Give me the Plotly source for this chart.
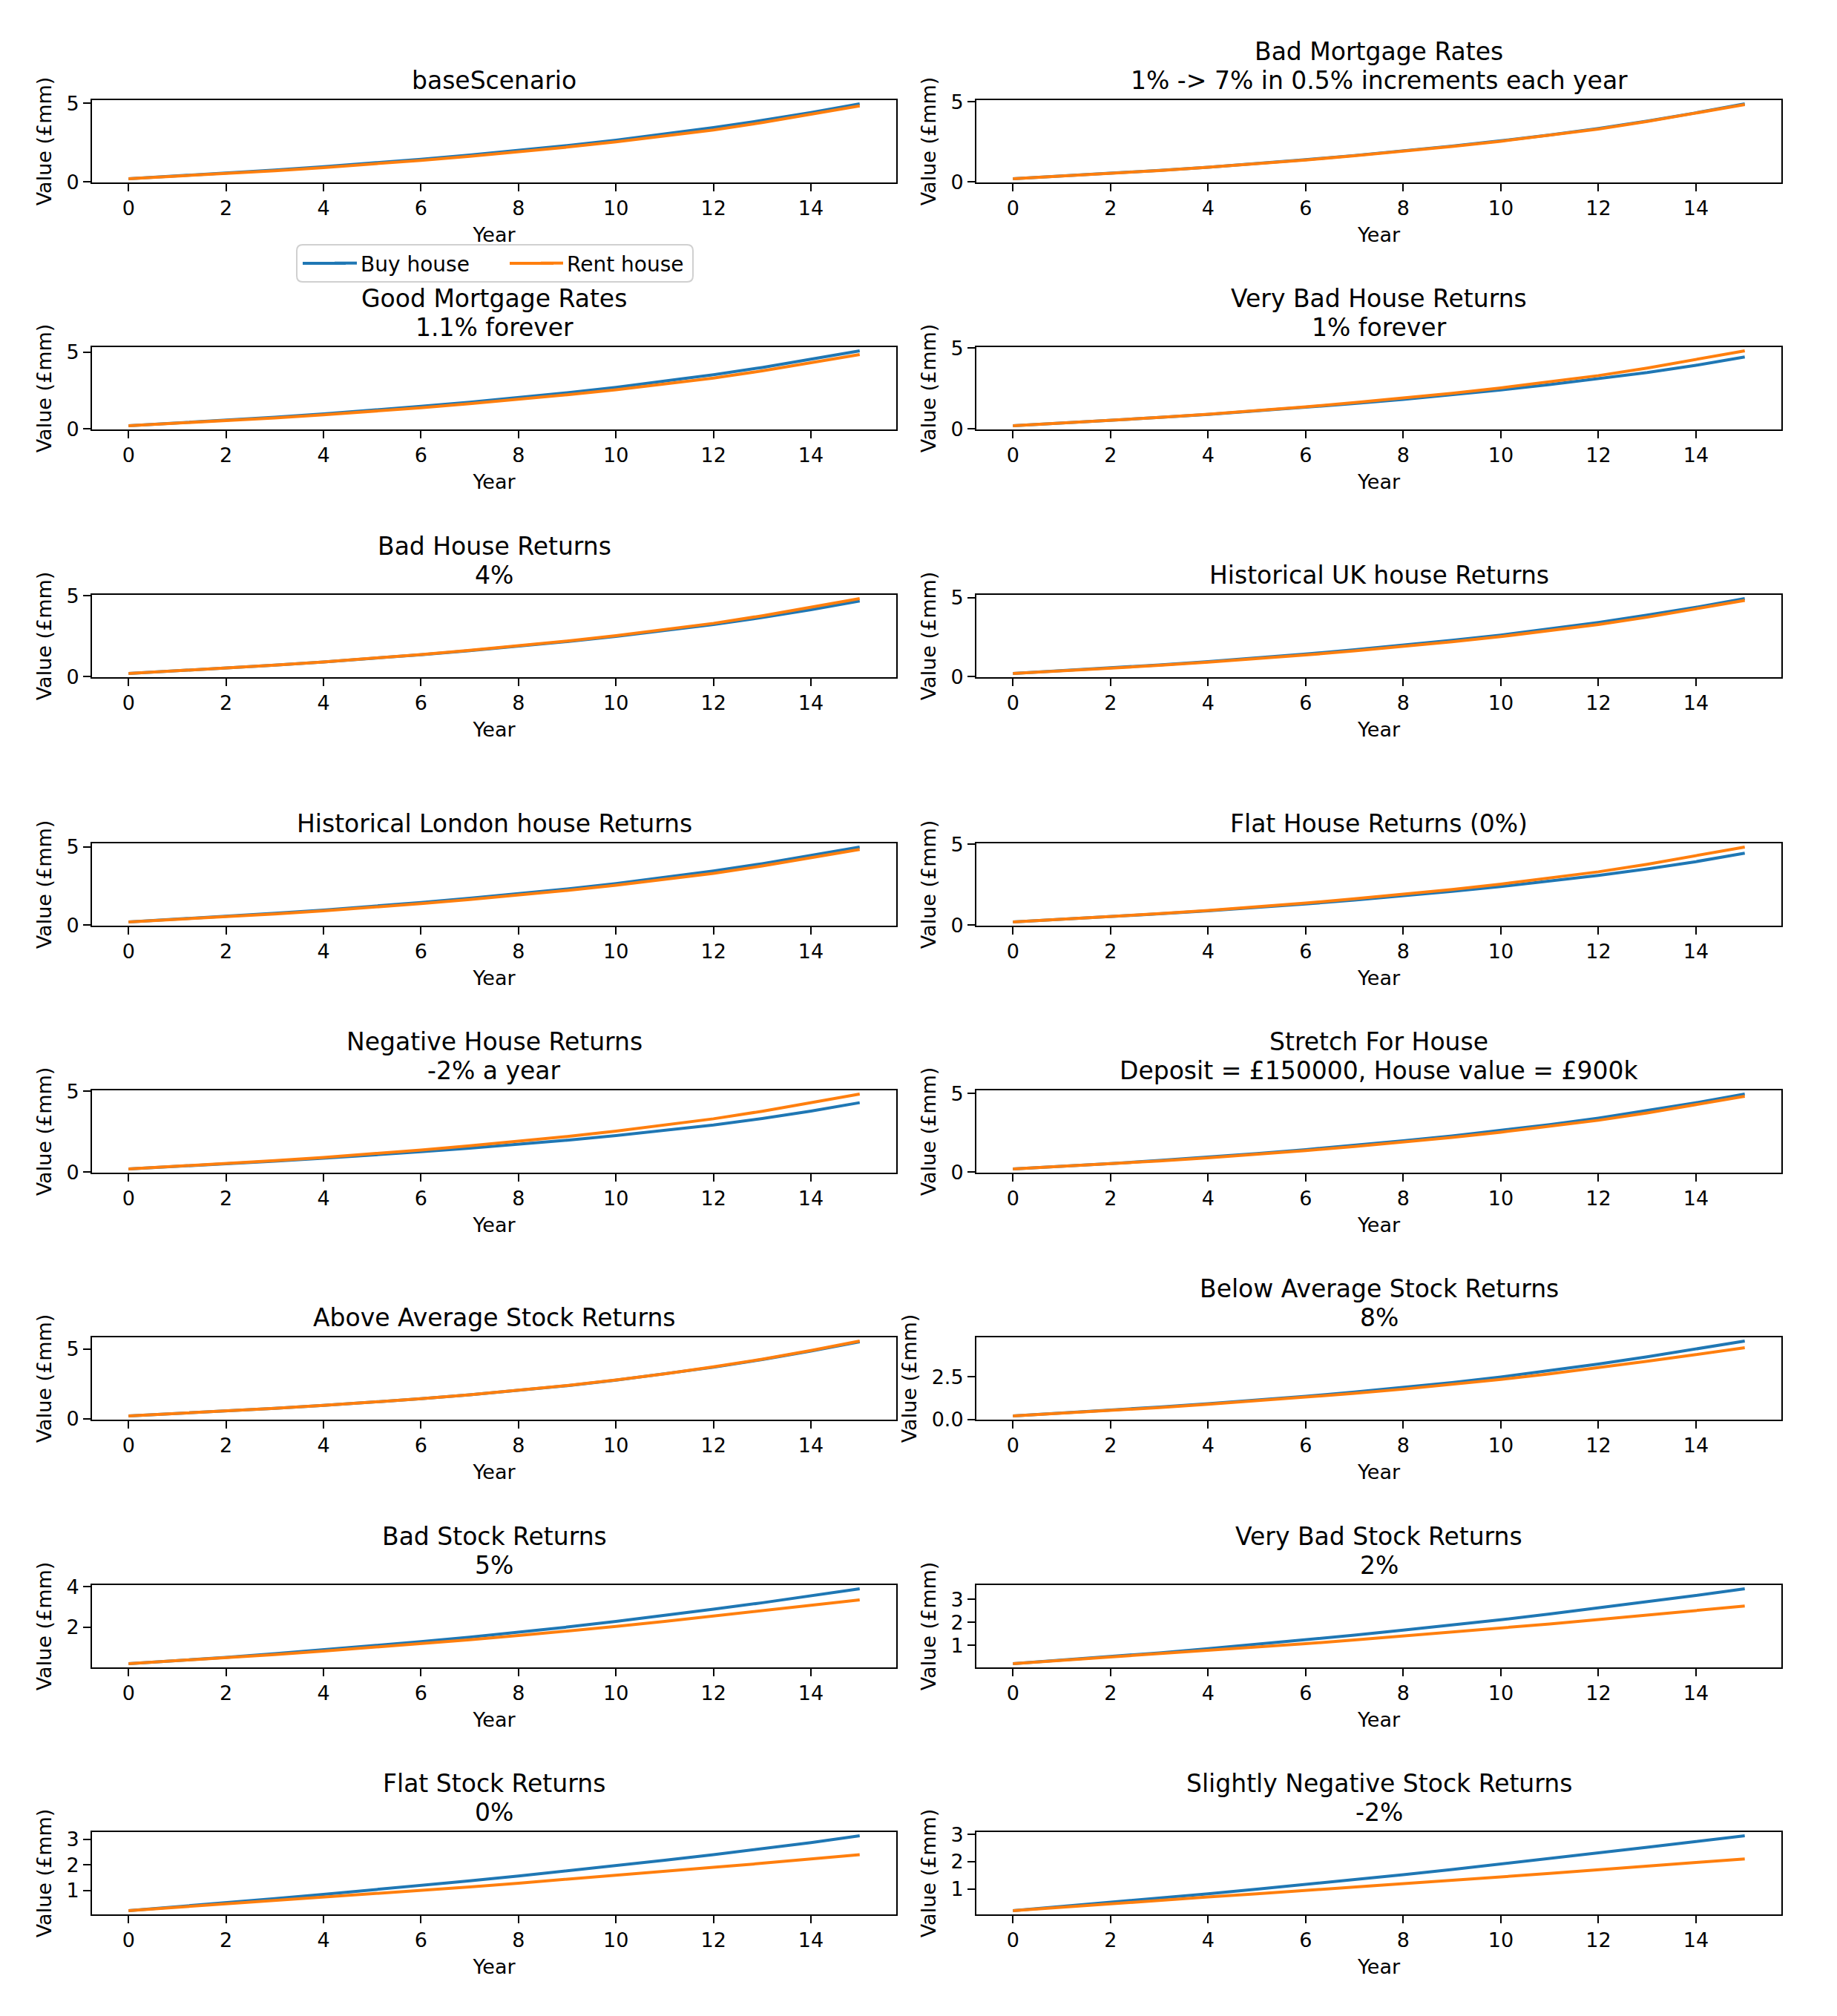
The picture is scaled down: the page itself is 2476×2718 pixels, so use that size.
import plotly.graph_objects as go

years = list(range(16))

titles = [
    "baseScenario",
    "Bad Mortgage Rates\n1% -> 7% in 0.5% increments each year",
    "Good Mortgage Rates\n1.1% forever",
    "Very Bad House Returns\n1% forever",
    "Bad House Returns\n4%",
    "Historical UK house Returns",
    "Historical London house Returns",
    "Flat House Returns (0%)",
    "Negative House Returns\n-2% a year",
    "Stretch For House\nDeposit = £150000, House value = £900k",
    "Above Average Stock Returns",
    "Below Average Stock Returns\n8%",
    "Bad Stock Returns\n5%",
    "Very Bad Stock Returns\n2%",
    "Flat Stock Returns\n0%",
    "Slightly Negative Stock Returns\n-2%",
]

series_names = ["Buy house", "Rent house"]

# Rent series shared by the house / mortgage scenarios
rent_house = [0.20, 0.36, 0.53, 0.71, 0.91, 1.13, 1.37, 1.63, 1.91, 2.21, 2.54, 2.90, 3.30, 3.77, 4.28, 4.83]

buy_base = [0.20, 0.37, 0.55, 0.75, 0.96, 1.19, 1.44, 1.71, 2.00, 2.31, 2.65, 3.03, 3.45, 3.91, 4.41, 4.96]
buy_bad_mortgage = [0.20, 0.36, 0.53, 0.72, 0.92, 1.14, 1.39, 1.65, 1.93, 2.24, 2.57, 2.93, 3.34, 3.80, 4.31, 4.87]
buy_good_mortgage = [0.20, 0.37, 0.55, 0.75, 0.97, 1.20, 1.46, 1.73, 2.03, 2.35, 2.70, 3.09, 3.52, 3.99, 4.51, 5.07]
buy_very_bad_house = [0.20, 0.36, 0.53, 0.71, 0.90, 1.11, 1.33, 1.57, 1.83, 2.11, 2.41, 2.74, 3.10, 3.49, 3.94, 4.45]
buy_bad_house = [0.20, 0.36, 0.53, 0.71, 0.91, 1.12, 1.36, 1.61, 1.88, 2.17, 2.49, 2.84, 3.23, 3.66, 4.14, 4.68]
buy_hist_uk = [0.20, 0.37, 0.54, 0.74, 0.95, 1.18, 1.43, 1.70, 1.99, 2.30, 2.64, 3.02, 3.44, 3.90, 4.40, 4.95]
buy_hist_london = [0.20, 0.37, 0.55, 0.75, 0.96, 1.19, 1.44, 1.71, 2.00, 2.31, 2.65, 3.03, 3.45, 3.92, 4.43, 4.98]
buy_flat_house = [0.20, 0.36, 0.52, 0.70, 0.89, 1.09, 1.31, 1.55, 1.81, 2.09, 2.39, 2.72, 3.08, 3.48, 3.93, 4.45]
buy_negative_house = [0.20, 0.35, 0.51, 0.68, 0.86, 1.05, 1.26, 1.48, 1.72, 1.98, 2.26, 2.57, 2.92, 3.32, 3.78, 4.30]
buy_stretch = [0.20, 0.36, 0.54, 0.74, 0.95, 1.18, 1.43, 1.70, 1.99, 2.30, 2.64, 3.02, 3.44, 3.91, 4.42, 4.97]

buy_above_avg = [0.20, 0.37, 0.55, 0.74, 0.95, 1.18, 1.43, 1.71, 2.02, 2.37, 2.76, 3.20, 3.69, 4.24, 4.85, 5.52]
rent_above_avg = [0.20, 0.37, 0.55, 0.74, 0.95, 1.18, 1.43, 1.71, 2.02, 2.38, 2.78, 3.22, 3.72, 4.27, 4.89, 5.57]
buy_below_avg = [0.20, 0.36, 0.53, 0.72, 0.92, 1.13, 1.35, 1.60, 1.87, 2.16, 2.48, 2.84, 3.24, 3.67, 4.12, 4.59]
rent_below_avg = [0.20, 0.35, 0.51, 0.69, 0.88, 1.08, 1.29, 1.52, 1.77, 2.04, 2.34, 2.67, 3.03, 3.41, 3.80, 4.20]
buy_bad_stock = [0.20, 0.35, 0.51, 0.69, 0.88, 1.08, 1.29, 1.51, 1.75, 2.01, 2.29, 2.58, 2.89, 3.21, 3.55, 3.90]
rent_bad_stock = [0.20, 0.34, 0.49, 0.65, 0.82, 1.00, 1.18, 1.38, 1.59, 1.81, 2.04, 2.29, 2.55, 2.82, 3.09, 3.35]
buy_very_bad_stock = [0.20, 0.35, 0.50, 0.67, 0.85, 1.04, 1.23, 1.44, 1.66, 1.88, 2.11, 2.36, 2.62, 2.89, 3.17, 3.46]
rent_very_bad_stock = [0.20, 0.34, 0.48, 0.62, 0.77, 0.92, 1.07, 1.23, 1.40, 1.57, 1.75, 1.93, 2.12, 2.31, 2.51, 2.71]
buy_flat_stock = [0.20, 0.35, 0.51, 0.67, 0.84, 1.01, 1.19, 1.37, 1.56, 1.76, 1.97, 2.18, 2.40, 2.63, 2.87, 3.14]
rent_flat_stock = [0.20, 0.33, 0.46, 0.59, 0.72, 0.85, 0.99, 1.13, 1.28, 1.43, 1.58, 1.74, 1.90, 2.06, 2.23, 2.40]
buy_slight_neg = [0.20, 0.35, 0.50, 0.66, 0.82, 0.99, 1.16, 1.34, 1.52, 1.71, 1.91, 2.11, 2.32, 2.53, 2.74, 2.95]
rent_slight_neg = [0.20, 0.33, 0.46, 0.58, 0.70, 0.82, 0.94, 1.06, 1.18, 1.31, 1.44, 1.57, 1.71, 1.84, 1.97, 2.10]

x_ticks = [0, 2, 4, 6, 8, 10, 12, 14]
yticks_5 = [0, 5]
yticks_25 = [0, 2.5]
yticks_25_text = ["0.0", "2.5"]
yticks_24 = [2, 4]
yticks_123 = [1, 2, 3]

panels = [
    (buy_base, rent_house, yticks_5, None),
    (buy_bad_mortgage, rent_house, yticks_5, None),
    (buy_good_mortgage, rent_house, yticks_5, None),
    (buy_very_bad_house, rent_house, yticks_5, None),
    (buy_bad_house, rent_house, yticks_5, None),
    (buy_hist_uk, rent_house, yticks_5, None),
    (buy_hist_london, rent_house, yticks_5, None),
    (buy_flat_house, rent_house, yticks_5, None),
    (buy_negative_house, rent_house, yticks_5, None),
    (buy_stretch, rent_house, yticks_5, None),
    (buy_above_avg, rent_above_avg, yticks_5, None),
    (buy_below_avg, rent_below_avg, yticks_25, yticks_25_text),
    (buy_bad_stock, rent_bad_stock, yticks_24, None),
    (buy_very_bad_stock, rent_very_bad_stock, yticks_123, None),
    (buy_flat_stock, rent_flat_stock, yticks_123, None),
    (buy_slight_neg, rent_slight_neg, yticks_123, None),
]

COLORS = ["#1f77b4", "#ff7f0e"]

# Page geometry (reference pixels); the browser body adds an 8px margin
W, H = 2476, 2718
OFF = 8
FW, FH = W - 2 * OFF, H - 2 * OFF


def px_x(p):
    return (p - OFF) / FW


def px_y(p):
    return 1 - (p - OFF) / FH


FONT = "DejaVu Sans"
col_x = [(124, 1208), (1316, 2401)]
row_top = [135, 468, 802, 1137, 1470, 1803, 2137, 2470]
ax_h = 111
TITLE_SIZE = 33
TITLE_LINE = 39
LEG_Y = 355

fig = go.Figure()
layout_upd = {}
annotations = []
for i, (title, (buy, rent, tv, tt)) in enumerate(zip(titles, panels)):
    r, c = divmod(i, 2)
    n = i + 1
    suffix = "" if n == 1 else str(n)
    for name, vals, col in zip(series_names, (buy, rent), COLORS):
        fig.add_trace(go.Scatter(x=years, y=vals, mode="lines", name=name,
                                 line=dict(color=col, width=4),
                                 showlegend=(i == 0), xaxis="x" + suffix, yaxis="y" + suffix))
    x0, x1 = col_x[c]
    top = row_top[r]
    bot = top + ax_h
    lo = min(min(buy), min(rent))
    hi = max(max(buy), max(rent))
    pad = 0.05 * (hi - lo)
    common = dict(showline=True, mirror=True, linecolor="black", linewidth=2,
                  ticks="outside", ticklen=10, tickwidth=2, tickcolor="black",
                  showgrid=False, zeroline=False, automargin=False,
                  tickfont=dict(family=FONT, size=27, color="black"))
    layout_upd["xaxis" + suffix] = dict(
        domain=[px_x(x0), px_x(x1)], anchor="y" + suffix, range=[-0.75, 15.75],
        tickvals=x_ticks,
        title=dict(text="Year", font=dict(family=FONT, size=27, color="black"), standoff=12),
        **common)
    yax = dict(domain=[px_y(bot), px_y(top)], anchor="x" + suffix,
               range=[lo - pad, hi + pad], tickvals=tv,
               title=dict(text="Value (£mm)", font=dict(family=FONT, size=27, color="black"), standoff=12),
               **common)
    if tt is not None:
        yax["ticktext"] = tt
    layout_upd["yaxis" + suffix] = yax
    lines = title.split("\n")
    for k, line in enumerate(reversed(lines)):
        annotations.append(dict(text=line, x=(px_x(x0) + px_x(x1)) / 2, y=px_y(top),
                                xref="paper", yref="paper", xanchor="center", yanchor="bottom",
                                yshift=5 + k * TITLE_LINE, showarrow=False,
                                font=dict(family=FONT, size=TITLE_SIZE, color="black")))

# Rounded legend frame and long handles (matplotlib style)
lx0, lx1, ly0, ly1, rad = 400, 934, 330, 380, 8
rx = rad / FW
ry = rad / FH
X0, X1, Y0, Y1 = px_x(lx0), px_x(lx1), px_y(ly0), px_y(ly1)
frame_path = (f"M {X0 + rx},{Y0} L {X1 - rx},{Y0} Q {X1},{Y0} {X1},{Y0 - ry} "
              f"L {X1},{Y1 + ry} Q {X1},{Y1} {X1 - rx},{Y1} "
              f"L {X0 + rx},{Y1} Q {X0},{Y1} {X0},{Y1 + ry} "
              f"L {X0},{Y0 - ry} Q {X0},{Y0} {X0 + rx},{Y0} Z")
shapes = [dict(type="path", path=frame_path, xref="paper", yref="paper",
               line=dict(color="#d0d0d0", width=2), fillcolor="rgba(255,255,255,0.8)",
               layer="above")]
handle_x = [(408, 466), (687, 746)]
for (hx0, hx1), col in zip(handle_x, COLORS):
    shapes.append(dict(type="line", xref="paper", yref="paper",
                       x0=px_x(hx0), x1=px_x(hx1), y0=px_y(LEG_Y), y1=px_y(LEG_Y),
                       line=dict(color=col, width=4), layer="above"))

fig.update_layout(**layout_upd)
fig.update_layout(
    width=FW, height=FH,
    margin=dict(l=0, r=0, t=0, b=0),
    paper_bgcolor="white", plot_bgcolor="white",
    font=dict(family=FONT, color="black"),
    annotations=annotations,
    shapes=shapes,
    legend=dict(orientation="h", x=px_x(446), xanchor="left", y=px_y(LEG_Y), yanchor="middle",
                borderwidth=0, bgcolor="rgba(0,0,0,0)", entrywidth=233,
                font=dict(family=FONT, size=28, color="black")),
)

fig.write_html("out.html")
